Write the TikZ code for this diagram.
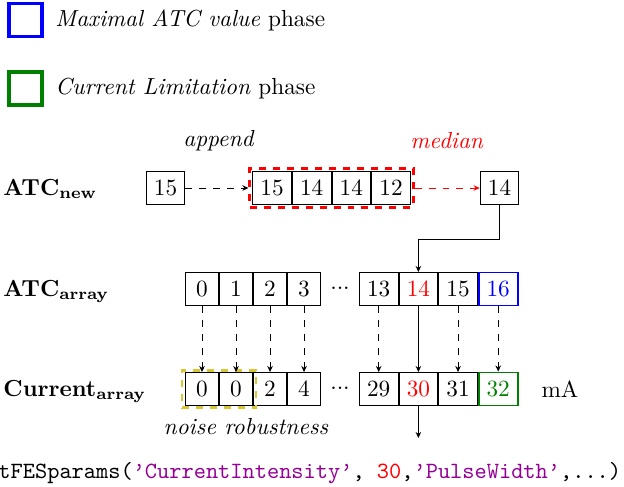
\documentclass[tikz,border=0pt]{standalone}
\usetikzlibrary{positioning,fit,arrows.meta}
\definecolor{codepurple}{RGB}{150,0,150}
\definecolor{noiseyellow}{RGB}{215,200,50}
\definecolor{darkgreen}{RGB}{0,128,0}
\begin{document}
\begin{tikzpicture}[x=0.43pt,y=-0.43pt,
  cell/.style={draw, minimum size=0.5cm, inner sep=3.33pt},
  legendbox/.style={draw, ultra thick, minimum size=0.5cm, inner sep=0pt},
  rowlabel/.style={anchor=base west, inner sep=0pt},
  arr/.style={-{Stealth[length=2.6pt,width=2.4pt]}},
  darr/.style={arr, dashed}]
\useasboundingbox (0,0) rectangle (624,486);

% legend
\node[legendbox, draw=blue] (lb) at (25.5,20) {};
\node[anchor=west, inner sep=0pt] (lbt) at (55,20) {\textit{Maximal ATC value} phase};
\node[legendbox, draw=darkgreen] (lg) at (25.5,88.5) {};
\node[anchor=west, inner sep=0pt] (lgt) at (55,88.5) {\textit{Current Limitation} phase};

% ATC new row
\node[cell] (new) at (165.5,188) {15};
\node[cell] (n1) at (272,188) {15};
\node[cell, right=0pt of n1] (n2) {14};
\node[cell, right=0pt of n2] (n3) {14};
\node[cell, right=0pt of n3] (n4) {12};
\node[draw=red, very thick, dashed, inner sep=1pt, fit=(n1)(n4)] (win) {};
\node[cell] (med) at (499.5,188) {14};
\node (app) at (219,141) {\textit{append}};
\node[text=red] (medl) at (447,141) {\textit{median}};
\draw[darr] (new) -- (win);
\draw[darr, red] (win) -- (med);

% ATC array row
\node[cell] (a0) at (202,289) {0};
\node[cell, right=0pt of a0] (a1) {1};
\node[cell, right=0pt of a1] (a2) {2};
\node[cell, right=0pt of a2] (a3) {3};
\node (adots) at (340,288) {...};
\node[cell] (a13) at (378.7,289) {13};
\node[cell, right=0pt of a13, text=red] (a14) {14};
\node[cell, right=0pt of a14] (a15) {15};
\node[cell, right=0pt of a15, draw=blue, text=blue, thick] (a16) {16};

% Current array row
\node[cell] (c0) at (202,389) {0};
\node[cell, right=0pt of c0] (c1) {0};
\node[cell, right=0pt of c1] (c2) {2};
\node[cell, right=0pt of c2] (c3) {4};
\node (cdots) at (340,388) {...};
\node[cell] (c29) at (378.7,389) {29};
\node[cell, right=0pt of c29, text=red] (c30) {30};
\node[cell, right=0pt of c30] (c31) {31};
\node[cell, right=0pt of c31, draw=darkgreen, text=darkgreen, thick] (c32) {32};
\node (ma) at (560,389) {mA};
\node[draw=noiseyellow, very thick, dashed, inner xsep=1.3pt, inner ysep=0.8pt, fit=(c0)(c1)] (noise) {};
\node (noisel) at (246,427) {\textit{noise robustness}};

% row labels
\coordinate (lx) at (3,0);
\node[rowlabel] (lnew) at (new.base -| lx) {$\mathbf{ATC_{new}}$};
\node[rowlabel] (larr) at (a0.base -| lx) {$\mathbf{ATC_{array}}$};
\node[rowlabel] (lcur) at (c0.base -| lx) {$\mathbf{Current_{array}}$};

% median to array
\coordinate (bendy) at (0,239);
\draw[arr] (med.south) -- (med.south |- bendy) -| (a14.north);

% array to current
\foreach \s/\t in {a0/c0,a1/c1,a2/c2,a3/c3,a13/c29,a15/c31,a16/c32}
  \draw[darr] (\s.south) -- (\t.north);
\draw[arr] (a14.south) -- (c30.north);

% output
\coordinate (outy) at (0,438);
\draw[arr] (c30.south) -- (c30.south |- outy);
\node[anchor=west, inner sep=0pt] (code) at (-2,473) {\ttfamily tFESparams(\textcolor{codepurple}{’CurrentIntensity’}, \textcolor{red}{30},\textcolor{codepurple}{’PulseWidth’},...)};
\end{tikzpicture}
\end{document}
